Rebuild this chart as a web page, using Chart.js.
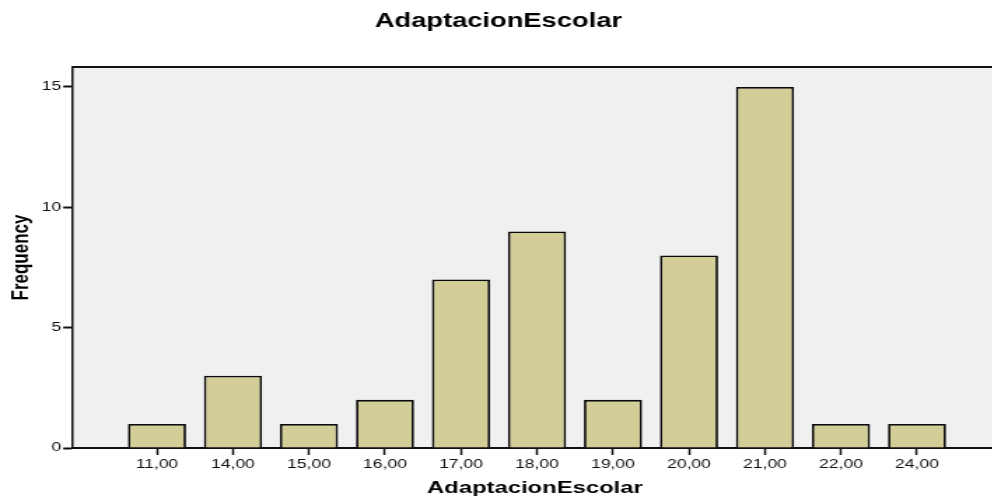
<!DOCTYPE html>
<html>
<head>
<meta charset="utf-8">
<script src="https://cdn.jsdelivr.net/npm/chart.js@4/dist/chart.umd.min.js"></script>
<style>
  html, body { margin: 0; padding: 0; overflow: hidden; background: #ffffff; width: 992px; height: 497px; }
  #wrap { position: absolute; left: 0; top: 0; width: 712px; height: 497px; transform: scaleX(1.4); transform-origin: 0 0; }
</style>
</head>
<body>
<div id="wrap"><canvas id="c" width="712" height="497"></canvas></div>
<script>
const categories = ['11,00', '14,00', '15,00', '16,00', '17,00', '18,00', '19,00', '20,00', '21,00', '22,00', '24,00'];
const frequencies = [1, 3, 1, 2, 7, 9, 2, 8, 15, 1, 1];
const yTicks = [0, 5, 10, 15];
const chartTitle = 'AdaptacionEscolar';
const xTitle = 'AdaptacionEscolar';
const yTitle = 'Frequency';

const plotFrame = {
  id: 'plotFrame',
  beforeDraw(chart) {
    const {ctx, chartArea: a} = chart;
    ctx.save();
    ctx.fillStyle = '#f0f0f0';
    ctx.fillRect(a.left, a.top, a.right - a.left, a.bottom - a.top);
    ctx.strokeStyle = '#111111';
    ctx.lineWidth = 2;
    ctx.beginPath();
    ctx.moveTo(a.left, a.top);
    ctx.lineTo(a.right + 5, a.top);
    ctx.stroke();
    ctx.restore();
  }
};

new Chart(document.getElementById('c'), {
  type: 'bar',
  data: {
    datasets: [{
      label: yTitle,
      data: frequencies.map((v, i) => ({x: i, y: v})),
      backgroundColor: '#d3ce97',
      borderColor: '#0a0a0a',
      borderWidth: 1.8,
      barPercentage: 0.765,
      categoryPercentage: 1.0
    }]
  },
  options: {
    responsive: false,
    animation: false,
    devicePixelRatio: 1,
    layout: { padding: 0 },
    plugins: {
      legend: { display: false },
      tooltip: { enabled: false },
      title: {
        display: true,
        text: chartTitle,
        color: '#000000',
        font: { family: '"Liberation Sans", Arial, sans-serif', size: 19.5, weight: 'bold', lineHeight: 1 },
        padding: { top: 12.25, bottom: 35.25 }
      }
    },
    scales: {
      x: {
        type: 'linear',
        offset: false,
        min: -1.105,
        max: 11.05,
        afterBuildTicks(scale) { scale.ticks = categories.map((c, i) => ({value: i})); },
        afterFit(scale) { scale.height = 49; },
        ticks: {
          autoSkip: false,
          maxRotation: 0,
          padding: 2,
          color: '#111111',
          font: { family: '"Liberation Sans", Arial, sans-serif', size: 12.5 },
          callback: (v) => categories[v] !== undefined ? categories[v] : ''
        },
        grid: { display: true, offset: false, drawOnChartArea: false, drawTicks: true, tickLength: 7, tickColor: '#111111', tickWidth: 1.5 },
        border: { display: true, color: '#111111', width: 2 },
        title: {
          display: true,
          text: xTitle,
          color: '#000000',
          font: { family: '"Liberation Sans", Arial, sans-serif', size: 17, weight: 'bold', lineHeight: 1 },
          padding: { top: 0, bottom: 0 }
        }
      },
      y: {
        type: 'linear',
        min: 0,
        max: 15.83,
        afterBuildTicks(scale) { scale.ticks = yTicks.map(v => ({value: v})); },
        afterFit(scale) { scale.width = 52.14; },
        ticks: {
          padding: 1.5,
          color: '#111111',
          font: { family: '"Liberation Sans", Arial, sans-serif', size: 12.5 }
        },
        grid: { display: true, drawOnChartArea: false, drawTicks: true, tickLength: 7, tickColor: '#111111', tickWidth: 2 },
        border: { display: true, color: '#111111', width: 1.5 },
        title: {
          display: true,
          text: yTitle,
          color: '#000000',
          font: { family: '"Liberation Sans", Arial, sans-serif', size: 17, weight: 'bold', lineHeight: 1 },
          padding: { top: 7, bottom: 0 }
        }
      }
    }
  },
  plugins: [plotFrame]
});
</script>
</body>
</html>
